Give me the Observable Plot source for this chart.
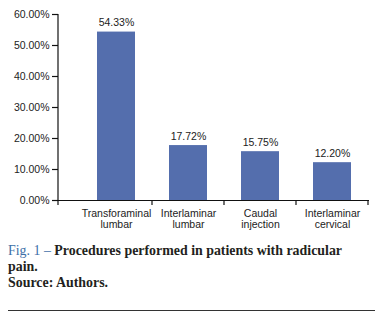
<!DOCTYPE html>
<html>
<head>
<meta charset="utf-8">
<script src="https://cdn.jsdelivr.net/npm/d3@7"></script>
<script src="https://cdn.jsdelivr.net/npm/@observablehq/plot@0.6"></script>
<style>
  html, body { margin: 0; padding: 0; background: #fff; width: 382px; height: 317px; overflow: hidden; }
  #wrap { position: relative; width: 382px; height: 317px; }
  #chart { position: absolute; left: 0; top: 0; }
  #caption { position: absolute; left: 8px; top: 243px; font-family: "Liberation Serif", serif; font-size: 13.9px; line-height: 16px; color: #231f20; font-weight: bold; white-space: nowrap; }
  #caption .fig { color: #3d6fa8; font-weight: normal; }
  #rule { position: absolute; left: 8px; top: 310px; width: 367px; height: 1px; background: #333; }
</style>
</head>
<body>
<div id="wrap">
  <div id="chart"></div>
  <div id="caption"><span class="fig">Fig. 1 –</span> Procedures performed in patients with radicular<br>pain.<br>Source: Authors.</div>
  <div id="rule"></div>
</div>
<script>
const categories = ["Transforaminal\nlumbar", "Interlaminar\nlumbar", "Caudal\ninjection", "Interlaminar\ncervical"];
const values = [54.33, 17.72, 15.75, 12.20];
const yTicks = [0, 10, 20, 30, 40, 50, 60];

const data = categories.map((c, i) => ({category: c, value: values[i]}));
const barColor = "#546ead";
const font = "'Liberation Sans', Arial, sans-serif";

const chart = Plot.plot({
  width: 382,
  height: 232,
  marginTop: 14,
  marginBottom: 32,
  marginLeft: 58,
  marginRight: 13,
  style: {fontFamily: font, fontSize: "10.5px", color: "#222", background: "#fff"},
  x: {domain: categories, range: [80, 368], paddingInner: 0.472, paddingOuter: 0.236, label: null},
  y: {domain: [0, 60], label: null},
  marks: [
    Plot.barY(data, {x: "category", y: "value", fill: barColor}),
    Plot.text(data, {x: "category", y: "value", text: d => d.value.toFixed(2) + "%", dy: -6, lineAnchor: "bottom", fill: "#222", fontSize: 10.5}),
    Plot.ruleY([0], {stroke: "#111", strokeWidth: 1.2}),
    Plot.axisY({ticks: yTicks, tickFormat: d => d.toFixed(2) + "%", tickSize: 6, tickPadding: 3, label: null, stroke: "#111", strokeWidth: 1.2}),
    Plot.axisX({tickSize: 0, tickPadding: 8, lineHeight: 1.08, label: null})
  ]
});
document.getElementById("chart").appendChild(chart);

// axis line on the left and boundary ticks on the x-axis, placed through the plot's scales
const svg = d3.select(chart);
const xs = chart.scale("x");
const ys = chart.scale("y");
const y0 = ys.apply(0);
const yTop = ys.apply(60);
const step = xs.step;
const bw = xs.bandwidth;
const gap = (step - bw) / 2;
svg.append("line").attr("x1", 58).attr("x2", 58).attr("y1", yTop).attr("y2", y0 + 5).attr("stroke", "#111").attr("stroke-width", 1.2);
categories.forEach(c => {
  const xb = xs.apply(c) + bw + gap;
  svg.append("line").attr("x1", xb).attr("x2", xb).attr("y1", y0).attr("y2", y0 + 5).attr("stroke", "#111").attr("stroke-width", 1.2);
});
</script>
</body>
</html>
